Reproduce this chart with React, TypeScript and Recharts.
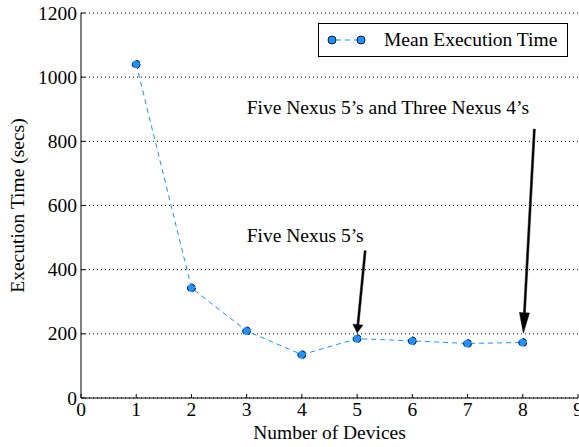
import React from "react";
import {
  LineChart,
  Line,
  XAxis,
  YAxis,
  CartesianGrid,
  Legend,
  ReferenceLine,
  ReferenceDot,
} from "recharts";

const devices = [1, 2, 3, 4, 5, 6, 7, 8];
const meanTimes = [1040, 343, 209, 135, 185, 178, 170, 173];
const xTicks = [0, 1, 2, 3, 4, 5, 6, 7, 8, 9];
const yTicks = [0, 200, 400, 600, 800, 1000, 1200];

const notes = [
  { text: "Five Nexus 5\u2019s and Three Nexus 4\u2019s", x: 3, y: 884 },
  { text: "Five Nexus 5\u2019s", x: 3, y: 486 },
];
const arrows = [
  { from: { x: 8.21, y: 838 }, to: { x: 8.01, y: 202 } },
  { from: { x: 5.146, y: 459 }, to: { x: 5.0, y: 203 } },
];

const data = devices.map((d, i) => ({ devices: d, time: meanTimes[i] }));

const FONT = "'Liberation Serif', 'Times New Roman', serif";
const FS = 19.5;
const BLUE = "#1e90ff";

const BottomTick = (p: any) => (
  <g>
    <line x1={p.x} y1={p.y} x2={p.x} y2={p.y - 4} stroke="#000" />
    <text x={p.x} y={p.y + 18} textAnchor="middle" fontFamily={FONT} fontSize={FS} fill="#000">
      {p.payload.value}
    </text>
  </g>
);
const TopTick = (p: any) => (
  <line x1={p.x} y1={p.y} x2={p.x} y2={p.y + 4} stroke="#000" />
);
const LeftTick = (p: any) => (
  <g>
    <line x1={p.x} y1={p.y} x2={p.x + 4} y2={p.y} stroke="#000" />
    <text x={p.x - 4} y={p.y + 6.5} textAnchor="end" fontFamily={FONT} fontSize={FS} fill="#000">
      {p.payload.value}
    </text>
  </g>
);
const RightTick = (p: any) => (
  <line x1={p.x} y1={p.y} x2={p.x - 4} y2={p.y} stroke="#000" />
);

const Arrow = (p: any) => {
  const { x1, y1, x2, y2 } = p;
  const dx = x2 - x1;
  const dy = y2 - y1;
  const len = Math.sqrt(dx * dx + dy * dy);
  const ux = dx / len;
  const uy = dy / len;
  const nx = -uy;
  const ny = ux;
  const hl = len * 0.1;
  const bx = x2 - ux * hl;
  const by = y2 - uy * hl;
  const sw = 1;
  const hw = 5;
  const pts = [
    [x1 + nx * sw, y1 + ny * sw],
    [bx + nx * sw, by + ny * sw],
    [bx + nx * hw, by + ny * hw],
    [x2, y2],
    [bx - nx * hw, by - ny * hw],
    [bx - nx * sw, by - ny * sw],
    [x1 - nx * sw, y1 - ny * sw],
  ]
    .map((q) => q.join(","))
    .join(" ");
  return <polygon points={pts} fill="#000" stroke="#000" strokeWidth={0.5} />;
};

const LegendBox = () => (
  <div
    style={{
      boxSizing: "border-box",
      width: 250,
      height: 34,
      border: "1px solid #000",
      background: "#fff",
      position: "relative",
      fontFamily: FONT,
      fontSize: FS,
    }}
  >
    <svg width={60} height={32} style={{ position: "absolute", left: 0, top: 0 }}>
      <line x1={13} y1={16} x2={42} y2={16} stroke={BLUE} strokeDasharray="5 4" strokeDashoffset={-4} />
      <circle cx={13} cy={16} r={4} fill={BLUE} stroke="#0a1a33" />
      <circle cx={42} cy={16} r={4} fill={BLUE} stroke="#0a1a33" />
    </svg>
    <span style={{ position: "absolute", left: 65, top: 5, lineHeight: "22px", whiteSpace: "nowrap" }}>
      Mean Execution Time
    </span>
  </div>
);

export default function App() {
  return (
    <div style={{ position: "absolute", left: 0, top: 0, background: "#fff" }}>
      <LineChart
        width={579}
        height={447}
        data={data}
        margin={{ top: 13, right: 1, bottom: 0, left: 0 }}
        style={{ fontFamily: FONT }}
      >
        <CartesianGrid vertical={false} stroke="#000" strokeDasharray="1 3" />
        <XAxis
          dataKey="devices"
          type="number"
          domain={[0, 9]}
          ticks={xTicks}
          height={49}
          tickSize={0}
          tickMargin={0}
          tickLine={false}
          axisLine={{ stroke: "#000" }}
          tick={<BottomTick />}
          interval={0}
          label={{
            value: "Number of Devices",
            position: "insideBottom",
            offset: 8,
            fill: "#000",
            fontSize: FS,
            fontFamily: FONT,
          }}
        />
        <XAxis
          xAxisId="t"
          orientation="top"
          type="number"
          domain={[0, 9]}
          ticks={xTicks}
          height={0}
          tickSize={0}
          tickMargin={0}
          tickLine={false}
          axisLine={{ stroke: "#000" }}
          tick={<TopTick />}
          interval={0}
        />
        <YAxis
          type="number"
          domain={[0, 1200]}
          ticks={yTicks}
          width={81}
          tickSize={0}
          tickMargin={0}
          tickLine={false}
          axisLine={{ stroke: "#000" }}
          tick={<LeftTick />}
          interval={0}
          label={{
            value: "Execution Time (secs)",
            angle: -90,
            position: "insideLeft",
            offset: 17,
            fill: "#000",
            fontSize: FS,
            fontFamily: FONT,
            style: { textAnchor: "middle" },
          }}
        />
        <YAxis
          yAxisId="r"
          orientation="right"
          type="number"
          domain={[0, 1200]}
          ticks={yTicks}
          width={0}
          tickSize={0}
          tickMargin={0}
          tickLine={false}
          axisLine={{ stroke: "#000" }}
          tick={<RightTick />}
          interval={0}
        />
        <Legend
          layout="vertical"
          align="center"
          verticalAlign="middle"
          wrapperStyle={{ left: 318, top: 23, width: 250, height: 34 }}
          content={() => <LegendBox />}
        />
        <Line
          dataKey="time"
          name="Mean Execution Time"
          stroke={BLUE}
          strokeWidth={1}
          strokeDasharray="5 4"
          dot={{ r: 4, fill: BLUE, stroke: "#0a1a33", strokeWidth: 1 }}
          activeDot={false}
          isAnimationActive={false}
        />
        {arrows.map((a, i) => (
          <ReferenceLine key={`arrow-${i}`} segment={[a.from, a.to]} shape={Arrow} />
        ))}
        {notes.map((n, i) => (
          <ReferenceDot
            key={`note-${i}`}
            x={n.x}
            y={n.y}
            r={0}
            shape={(p: any) => (
              <text x={p.cx} y={p.cy} fontFamily={FONT} fontSize={FS} fill="#000">
                {n.text}
              </text>
            )}
          />
        ))}
      </LineChart>
    </div>
  );
}
